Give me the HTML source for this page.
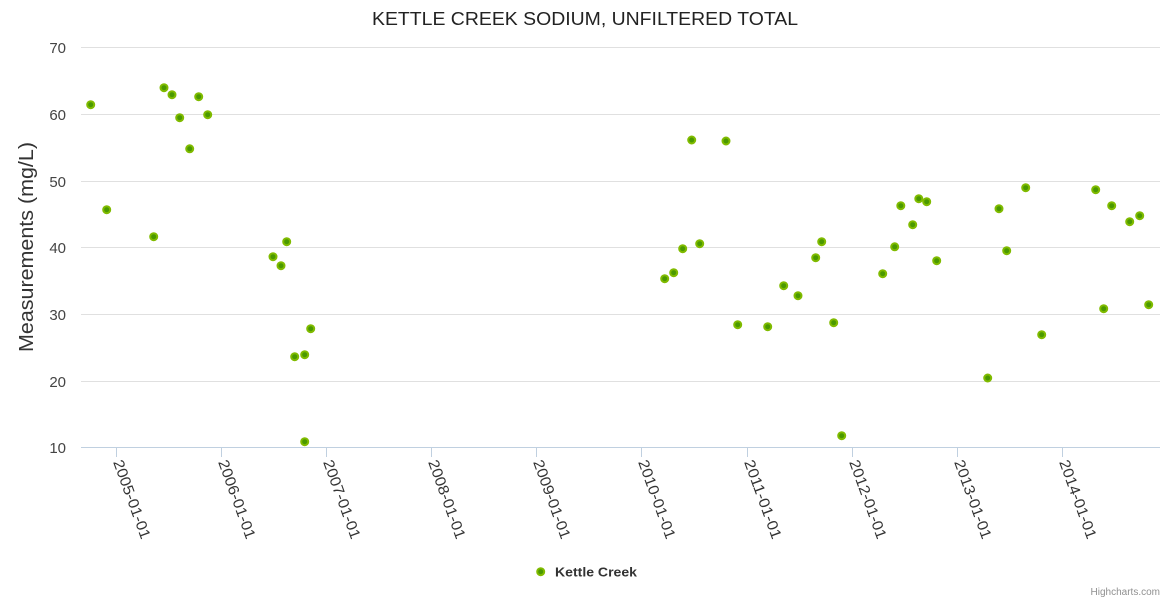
<!DOCTYPE html>
<html>
<head>
<meta charset="utf-8">
<style>
html,body{margin:0;padding:0;background:#fff;}
svg{display:block;font-family:"Liberation Sans",sans-serif;}
</style>
</head>
<body>
<svg width="1170" height="600" viewBox="0 0 1170 600" xmlns="http://www.w3.org/2000/svg">
<rect width="1170" height="600" fill="#fff"/>
<text x="585" y="25" text-anchor="middle" font-size="18" fill="#222" textLength="426" lengthAdjust="spacingAndGlyphs">KETTLE CREEK SODIUM, UNFILTERED TOTAL</text>
<g stroke="#e0e0e0" stroke-width="1">
<line x1="81" y1="47.5" x2="1160" y2="47.5"/>
<line x1="81" y1="114.5" x2="1160" y2="114.5"/>
<line x1="81" y1="181.5" x2="1160" y2="181.5"/>
<line x1="81" y1="247.5" x2="1160" y2="247.5"/>
<line x1="81" y1="314.5" x2="1160" y2="314.5"/>
<line x1="81" y1="381.5" x2="1160" y2="381.5"/>
</g>
<line x1="81" y1="447.5" x2="1160" y2="447.5" stroke="#c0d0e0" stroke-width="1"/>
<g stroke="#c0d0e0" stroke-width="1">
<line x1="116.5" y1="447" x2="116.5" y2="457"/>
<line x1="221.5" y1="447" x2="221.5" y2="457"/>
<line x1="326.5" y1="447" x2="326.5" y2="457"/>
<line x1="431.5" y1="447" x2="431.5" y2="457"/>
<line x1="536.5" y1="447" x2="536.5" y2="457"/>
<line x1="641.5" y1="447" x2="641.5" y2="457"/>
<line x1="747.5" y1="447" x2="747.5" y2="457"/>
<line x1="852.5" y1="447" x2="852.5" y2="457"/>
<line x1="957.5" y1="447" x2="957.5" y2="457"/>
<line x1="1062.5" y1="447" x2="1062.5" y2="457"/>
</g>
<g font-size="15" fill="#444" text-anchor="end">
<text x="66" y="53">70</text>
<text x="66" y="120">60</text>
<text x="66" y="187">50</text>
<text x="66" y="253">40</text>
<text x="66" y="320">30</text>
<text x="66" y="387">20</text>
<text x="66" y="453">10</text>
</g>
<text transform="translate(33,247) rotate(-90)" text-anchor="middle" font-size="20" fill="#333" textLength="210" lengthAdjust="spacingAndGlyphs">Measurements (mg/L)</text>
<g font-size="15" fill="#333">
<text transform="translate(113,462) rotate(70)" textLength="83" lengthAdjust="spacingAndGlyphs">2005-01-01</text>
<text transform="translate(218,462) rotate(70)" textLength="83" lengthAdjust="spacingAndGlyphs">2006-01-01</text>
<text transform="translate(323,462) rotate(70)" textLength="83" lengthAdjust="spacingAndGlyphs">2007-01-01</text>
<text transform="translate(428,462) rotate(70)" textLength="83" lengthAdjust="spacingAndGlyphs">2008-01-01</text>
<text transform="translate(533,462) rotate(70)" textLength="83" lengthAdjust="spacingAndGlyphs">2009-01-01</text>
<text transform="translate(638,462) rotate(70)" textLength="83" lengthAdjust="spacingAndGlyphs">2010-01-01</text>
<text transform="translate(744,462) rotate(70)" textLength="83" lengthAdjust="spacingAndGlyphs">2011-01-01</text>
<text transform="translate(849,462) rotate(70)" textLength="83" lengthAdjust="spacingAndGlyphs">2012-01-01</text>
<text transform="translate(954,462) rotate(70)" textLength="83" lengthAdjust="spacingAndGlyphs">2013-01-01</text>
<text transform="translate(1059,462) rotate(70)" textLength="83" lengthAdjust="spacingAndGlyphs">2014-01-01</text>
</g>
<g fill="#4a9900" stroke="#80bb00" stroke-width="2">
<circle cx="90.7" cy="104.7" r="3.5"/>
<circle cx="106.7" cy="209.7" r="3.5"/>
<circle cx="153.7" cy="236.7" r="3.5"/>
<circle cx="164" cy="87.7" r="3.5"/>
<circle cx="172" cy="94.7" r="3.5"/>
<circle cx="179.7" cy="117.7" r="3.5"/>
<circle cx="189.7" cy="148.8" r="3.5"/>
<circle cx="198.7" cy="96.7" r="3.5"/>
<circle cx="207.7" cy="114.7" r="3.5"/>
<circle cx="273" cy="256.7" r="3.5"/>
<circle cx="281" cy="265.7" r="3.5"/>
<circle cx="286.7" cy="241.7" r="3.5"/>
<circle cx="294.7" cy="356.7" r="3.5"/>
<circle cx="304.7" cy="354.7" r="3.5"/>
<circle cx="304.7" cy="441.7" r="3.5"/>
<circle cx="310.7" cy="328.7" r="3.5"/>
<circle cx="664.7" cy="278.7" r="3.5"/>
<circle cx="673.7" cy="272.7" r="3.5"/>
<circle cx="682.7" cy="248.7" r="3.5"/>
<circle cx="691.7" cy="140" r="3.5"/>
<circle cx="699.7" cy="243.7" r="3.5"/>
<circle cx="726" cy="141" r="3.5"/>
<circle cx="737.7" cy="324.7" r="3.5"/>
<circle cx="767.7" cy="326.7" r="3.5"/>
<circle cx="783.7" cy="285.7" r="3.5"/>
<circle cx="798" cy="295.7" r="3.5"/>
<circle cx="815.7" cy="257.7" r="3.5"/>
<circle cx="821.7" cy="241.7" r="3.5"/>
<circle cx="833.7" cy="322.7" r="3.5"/>
<circle cx="841.7" cy="435.7" r="3.5"/>
<circle cx="882.7" cy="273.7" r="3.5"/>
<circle cx="894.7" cy="246.8" r="3.5"/>
<circle cx="900.8" cy="205.7" r="3.5"/>
<circle cx="912.7" cy="224.7" r="3.5"/>
<circle cx="918.8" cy="198.7" r="3.5"/>
<circle cx="926.7" cy="201.7" r="3.5"/>
<circle cx="936.7" cy="260.7" r="3.5"/>
<circle cx="987.7" cy="378" r="3.5"/>
<circle cx="999" cy="208.7" r="3.5"/>
<circle cx="1006.7" cy="250.7" r="3.5"/>
<circle cx="1025.7" cy="187.7" r="3.5"/>
<circle cx="1041.7" cy="334.7" r="3.5"/>
<circle cx="1095.7" cy="189.7" r="3.5"/>
<circle cx="1103.7" cy="308.7" r="3.5"/>
<circle cx="1111.7" cy="205.7" r="3.5"/>
<circle cx="1129.7" cy="221.7" r="3.5"/>
<circle cx="1139.7" cy="215.7" r="3.5"/>
<circle cx="1148.7" cy="304.7" r="3.5"/>
</g>
<circle cx="540.7" cy="571.7" r="3.5" fill="#4a9900" stroke="#80bb00" stroke-width="2"/>
<text x="555" y="576.5" font-size="13" font-weight="bold" fill="#333" textLength="82" lengthAdjust="spacingAndGlyphs">Kettle Creek</text>
<text x="1160" y="595" text-anchor="end" font-size="10" fill="#909090">Highcharts.com</text>
</svg>
</body>
</html>
